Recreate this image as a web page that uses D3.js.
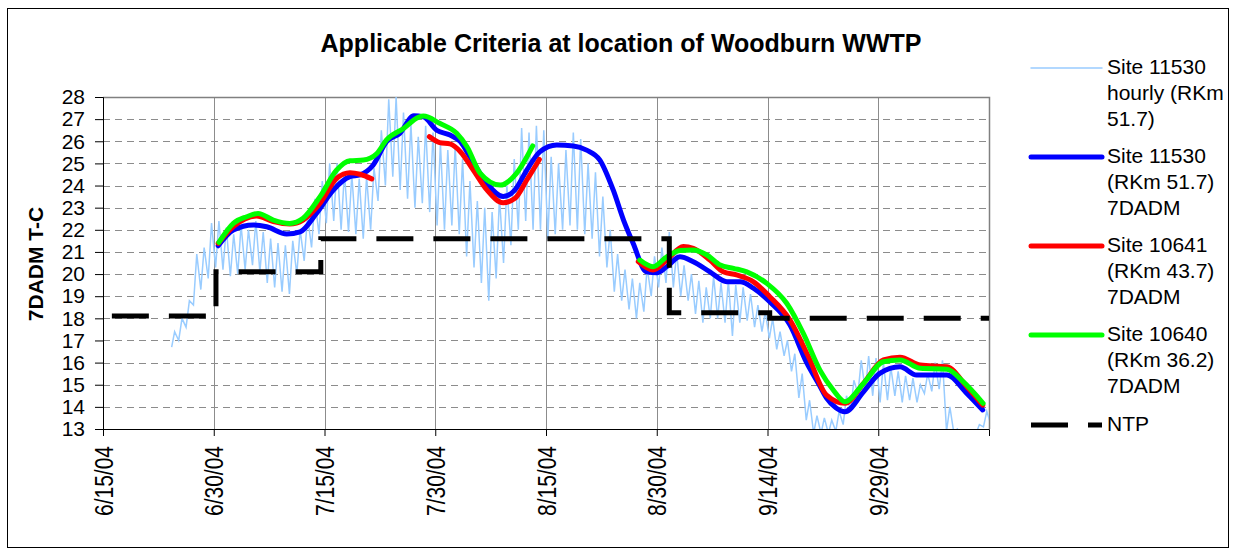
<!DOCTYPE html>
<html>
<head>
<meta charset="utf-8">
<script src="https://cdn.jsdelivr.net/npm/d3@7"></script>
<style>
  body { margin: 0; background: #fff; }
  svg { font-family: 'Liberation Sans', Arial, sans-serif; }
</style>
</head>
<body>
<svg id="chart" width="1236" height="550"></svg>
<script>
// day offsets are counted from 6/15/04
const xTickDays = [0, 15, 30, 45, 60, 75, 90, 105]
const xTickLabels = ['6/15/04', '6/30/04', '7/15/04', '7/30/04', '8/15/04', '8/30/04', '9/14/04', '9/29/04']
const yTicks = d3.range(13, 29)

// Site 11530 hourly, read as daily max / min starting at day 9
const hourlyStartDay = 9
const hourlyMax = [
  17.4, 18.0, 18.8, 20.9, 21.2, 22.3, 22.4, 22.1, 21.8, 22.2,
  22.0, 22.4, 21.9, 21.6, 21.4, 21.3, 21.5, 22.0, 22.6, 23.4,
  24.2, 25.0, 25.0, 24.6, 24.5, 24.3, 24.4, 24.8, 26.5, 27.9,
  28.0, 27.3, 26.8, 26.2, 26.7, 26.4, 25.9, 25.6, 25.8, 25.2,
  24.2, 23.3, 23.0, 22.8, 23.5, 24.0, 25.2, 26.6, 26.4, 26.7,
  26.5, 25.3, 25.0, 25.6, 26.4, 26.1, 25.0, 24.6, 23.5, 22.0,
  20.9, 20.2, 19.8, 19.6, 20.3, 20.8, 21.2, 21.9, 21.0, 20.4,
  20.0, 19.7, 19.4, 19.9, 19.6, 19.7, 19.5, 19.4, 19.1, 18.6,
  18.3, 18.0, 17.4, 17.0, 16.4, 15.5, 14.3, 13.6, 13.5, 13.4,
  13.8, 14.5, 15.2, 16.1, 16.3, 16.2, 16.0, 15.8, 15.6, 15.4,
  15.3, 15.0, 15.5, 16.0, 16.1, 14.0, 13.0, 12.9, 12.9, 13.2,
  13.8, 13.7
]
const hourlyMin = [
  16.7, 17.0, 17.6, 18.6, 19.3, 19.8, 20.3, 20.2, 19.9, 20.0,
  20.2, 20.4, 20.1, 19.6, 19.4, 19.2, 19.1, 20.0, 20.6, 21.2,
  21.8, 22.3, 22.4, 22.0, 21.9, 21.8, 21.6, 22.0, 23.3, 24.0,
  24.4, 23.8, 23.4, 23.0, 23.2, 22.8, 22.2, 22.0, 22.2, 21.8,
  20.8, 20.3, 19.6, 18.8, 19.8, 20.5, 21.3, 22.0, 22.4, 22.0,
  22.0, 21.6, 21.8, 22.0, 22.2, 22.0, 21.8, 21.6, 20.8, 20.3,
  19.2, 18.8, 18.4, 18.0, 18.3, 19.0, 19.4, 19.6, 19.4, 19.0,
  18.8, 18.2, 17.8, 18.0, 18.0, 17.8, 17.2, 17.8, 17.9, 17.6,
  17.4, 17.1, 16.6, 16.3, 15.6, 14.4, 13.4, 12.8, 12.8, 12.8,
  12.9, 13.2, 13.8, 14.6, 14.7, 14.5, 14.2, 14.3, 14.5, 14.2,
  14.3, 14.2, 14.6, 14.7, 14.8, 12.9, 12.8, 12.8, 12.8, 12.8,
  13.1, 13.2
]

// 7DADM series as [day, value]; null marks a gap
const site11530 = [
  [15.6, 21.28], [17.65, 21.99], [20.36, 22.22], [22.17, 22.14], [24.88, 21.81], [26.7, 21.91],
  [28.9, 22.74], [31.2, 23.8], [33.45, 24.4], [34.8, 24.48], [36.6, 24.93], [38.4, 25.98],
  [40.2, 26.36], [42.1, 27.15], [43.4, 27.1], [45.2, 26.5], [47.0, 26.28], [48.4, 25.98],
  [49.7, 25.3], [52.0, 24.1], [54.2, 23.5], [55.8, 23.8], [57.4, 24.7], [59.2, 25.53],
  [61.45, 25.83], [63.7, 25.79], [65.5, 25.6], [67.3, 25.15], [69.1, 23.8], [70.5, 22.44],
  [71.8, 21.39], [73.6, 20.1], [75.0, 20.06], [76.35, 20.33], [78.15, 20.78], [79.95, 20.56],
  [82.2, 20.1], [84.5, 19.65], [86.3, 19.65], [88.1, 19.36], [90.3, 18.75], [93.05, 17.7],
  [95.3, 16.0], [97.0, 15.0], [98.0, 14.4], [99.3, 13.95], [100.5, 13.78], [103.0, 14.68],
  [105.2, 15.51], [107.95, 15.81], [110.2, 15.44], [114.3, 15.44], [117.0, 14.61], [119.15, 13.86]
]
const site10641 = [
  [15.6, 21.39], [17.65, 22.14], [20.8, 22.62], [23.07, 22.37], [25.3, 22.26], [27.1, 22.44],
  [29.4, 23.2], [31.65, 24.33], [33.45, 24.58], [34.8, 24.51], [36.4, 24.3],
  null,
  [44.2, 26.21], [45.6, 25.94], [47.0, 25.88], [48.4, 25.53], [50.15, 24.7], [52.0, 23.8],
  [54.2, 23.22], [55.8, 23.42], [57.4, 24.25], [59.1, 25.18],
  null,
  [72.5, 20.56], [74.5, 20.18], [76.35, 20.63], [78.6, 21.24], [79.95, 21.16], [82.2, 20.63],
  [84.0, 20.1], [85.8, 19.96], [88.1, 19.65], [90.3, 18.98], [93.05, 17.92], [95.5, 16.3],
  [98.0, 14.53], [100.5, 14.16], [103.0, 15.06], [105.7, 16.12], [107.95, 16.24], [110.7, 15.89],
  [114.3, 15.81], [117.0, 14.91], [119.15, 14.08]
]
const site10640 = [
  [15.7, 21.43], [17.65, 22.29], [19.46, 22.59], [21.0, 22.74], [23.07, 22.44], [25.3, 22.29],
  [27.1, 22.52], [29.4, 23.5], [31.65, 24.7], [33.45, 25.12], [35.25, 25.15], [37.1, 25.45],
  [38.4, 26.06], [40.7, 26.58], [42.7, 27.08], [43.4, 27.14], [45.6, 26.81], [47.9, 26.36],
  [49.3, 25.75], [51.1, 24.55], [53.8, 24.02], [56.0, 24.55], [58.2, 25.79],
  null,
  [72.7, 20.63], [74.5, 20.33], [76.35, 20.78], [78.15, 21.06], [79.95, 21.09], [81.8, 20.86],
  [83.6, 20.41], [85.4, 20.26], [87.2, 20.1], [89.9, 19.58], [92.6, 18.68], [94.85, 17.32],
  [97.1, 15.66], [98.9, 14.76], [100.5, 14.23], [103.0, 15.06], [105.7, 16.04], [107.95, 16.12],
  [110.7, 15.74], [114.3, 15.7], [116.5, 15.14], [119.2, 14.16]
]

// NTP criterion, step changes
const ntpDays = [1.2, 15.3, 29.5, 76.7, 90.3, 120]
const ntpValues = [18.1, 20.1, 21.6, 18.25, 18.0, 18.0]

const legendItems = [
  { lines: ['Site 11530', 'hourly (RKm', '51.7)'], color: '#99ccff', width: 1.5, y: 68 },
  { lines: ['Site 11530', '(RKm 51.7)', '7DADM'], color: '#0000ff', width: 5, y: 157 },
  { lines: ['Site 10641', '(RKm 43.7)', '7DADM'], color: '#ff0000', width: 5, y: 246 },
  { lines: ['Site 10640', '(RKm 36.2)', '7DADM'], color: '#00ff00', width: 5, y: 335 },
  { lines: ['NTP'], color: '#000', width: 5, y: 425, dash: '37,20' }
]

const svg = d3.select('#chart')
const plot = { left: 103, right: 989, top: 97, bottom: 429 }

const x = d3.scaleLinear().domain([0, 120]).range([plot.left, plot.right])
const y = d3.scaleLinear().domain([13, 28]).range([plot.bottom, plot.top])

// outer chart border
svg.append('rect')
  .attr('x', 7.5).attr('y', 8.5)
  .attr('width', 1221).attr('height', 539)
  .attr('fill', 'none').attr('stroke', '#000').attr('stroke-width', 1)

svg.append('text')
  .attr('x', 621).attr('y', 52)
  .attr('text-anchor', 'middle')
  .attr('font-size', 25).attr('font-weight', 'bold')
  .text('Applicable Criteria at location of Woodburn WWTP')

svg.append('defs').append('clipPath').attr('id', 'plotClip')
  .append('rect')
  .attr('x', plot.left).attr('y', plot.top)
  .attr('width', plot.right - plot.left).attr('height', plot.bottom - plot.top)

// gridlines
svg.append('g')
  .selectAll('line')
  .data(yTicks.filter(v => v > 13 && v < 28))
  .join('line')
  .attr('x1', plot.left).attr('x2', plot.right)
  .attr('y1', d => Math.round(y(d)) + 0.5).attr('y2', d => Math.round(y(d)) + 0.5)
  .attr('stroke', '#8c8c8c').attr('stroke-dasharray', '7,5')

svg.append('g')
  .selectAll('line')
  .data(xTickDays.slice(1))
  .join('line')
  .attr('x1', d => Math.round(x(d)) + 0.5).attr('x2', d => Math.round(x(d)) + 0.5)
  .attr('y1', plot.top).attr('y2', plot.bottom)
  .attr('stroke', '#8c8c8c')

// plot frame top/right
svg.append('path')
  .attr('d', `M${plot.left},${plot.top + 0.5}H${plot.right + 0.5}V${plot.bottom}`)
  .attr('fill', 'none').attr('stroke', '#808080').attr('stroke-width', 1.5)

// axes
const yAxis = d3.axisLeft(y).tickValues(yTicks).tickSize(8).tickPadding(10).tickFormat(d3.format('d'))
svg.append('g')
  .attr('transform', `translate(${plot.left},0)`)
  .call(yAxis)
  .call(g => g.selectAll('text').attr('font-size', 21).attr('fill', '#000'))
  .call(g => g.select('.domain').attr('stroke', '#000'))

const xAxis = d3.axisBottom(x)
  .tickValues(xTickDays)
  .tickSize(7)
  .tickFormat((d, i) => xTickLabels[i])
svg.append('g')
  .attr('transform', `translate(0,${plot.bottom})`)
  .call(xAxis)
  .call(g => g.select('.domain').attr('stroke', '#000'))
  .call(g => g.selectAll('text')
    .attr('font-size', 21).attr('fill', '#000')
    .attr('transform', 'rotate(-90) scale(1,1.25)')
    .attr('text-anchor', 'end')
    .attr('x', -17).attr('y', 0).attr('dy', '0.35em'))

svg.append('text')
  .attr('transform', 'translate(43,264) rotate(-90)')
  .attr('text-anchor', 'middle')
  .attr('font-size', 21).attr('font-weight', 'bold')
  .text('7DADM T-C')

const series = svg.append('g').attr('clip-path', 'url(#plotClip)')

// hourly trace: each day dips to its min then climbs to its max
const hourlyPoints = []
hourlyMax.forEach((mx, i) => {
  const day = hourlyStartDay + i
  hourlyPoints.push([day + 0.25, hourlyMin[i]])
  hourlyPoints.push([day + 0.7, mx])
})
hourlyPoints[0][0] = 9.3

series.append('path')
  .datum(hourlyPoints)
  .attr('d', d3.line().x(d => x(d[0])).y(d => y(d[1])))
  .attr('fill', 'none').attr('stroke', '#99ccff').attr('stroke-width', 1.5)

const smooth = d3.line()
  .defined(d => d !== null)
  .x(d => x(d[0])).y(d => y(d[1]))
  .curve(d3.curveMonotoneX)

const drawn = [
  { data: site11530, color: '#0000ff' },
  { data: site10641, color: '#ff0000' },
  { data: site10640, color: '#00ff00' }
]
drawn.forEach(s => {
  series.append('path')
    .datum(s.data)
    .attr('d', smooth)
    .attr('fill', 'none')
    .attr('stroke', s.color)
    .attr('stroke-width', 5)
    .attr('stroke-linecap', 'round')
    .attr('stroke-linejoin', 'round')
})

const ntp = ntpDays.map((d, i) => [d, ntpValues[i]])
series.append('path')
  .datum(ntp)
  .attr('d', d3.line().x(d => x(d[0])).y(d => y(d[1])).curve(d3.curveStepAfter))
  .attr('fill', 'none')
  .attr('stroke', '#000')
  .attr('stroke-width', 5)
  .attr('stroke-dasharray', '37,20')

// legend
const legend = svg.append('g')
legendItems.forEach(item => {
  legend.append('line')
    .attr('x1', 1031).attr('x2', 1102)
    .attr('y1', item.y).attr('y2', item.y)
    .attr('stroke', item.color)
    .attr('stroke-width', item.width)
    .attr('stroke-linecap', item.dash ? 'butt' : 'round')
    .attr('stroke-dasharray', item.dash || null)
  item.lines.forEach((t, j) => {
    legend.append('text')
      .attr('x', 1107)
      .attr('y', item.y - 1 + j * 26)
      .attr('dy', '0.35em')
      .attr('font-size', 21)
      .text(t)
  })
})
</script>
</body>
</html>
